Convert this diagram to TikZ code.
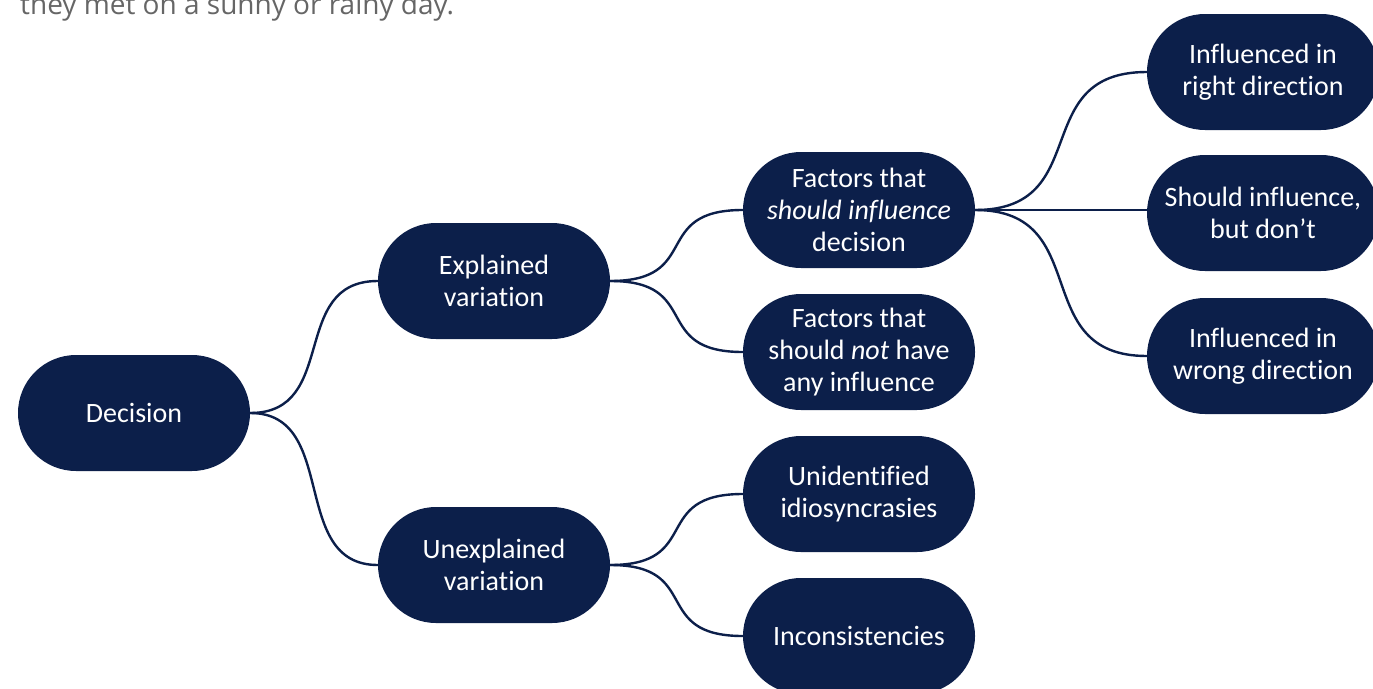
\documentclass[tikz,border=0pt]{standalone}
\usepackage{fontspec}
\setmainfont{Carlito}[Ligatures=NoCommon]
\newfontfamily\leadfont{Open Sans}
\usetikzlibrary{calc}
\definecolor{navy}{HTML}{0C1F4A}
\definecolor{leadgray}{HTML}{666666}
\tikzset{
  pill/.style={rectangle, rounded corners=58pt, fill=navy, draw=none,
    minimum width=232pt, minimum height=116pt, inner sep=0pt,
    text=white, align=center, font=\fontsize{28}{32}\selectfont},
  branch/.style={draw=navy, line width=2.4pt},
}
% S-shaped branch with horizontal tangents at both ends
\newcommand\branchto[2]{%
  \draw[branch] (#1.east) .. controls ($(#1.east)!0.7!(#1.east -| #2.west)$)
    and ($(#2.west)!0.7!(#2.west -| #1.east)$) .. (#2.west);}
\begin{document}
\begin{tikzpicture}[x=1pt, y=-1pt]
  \useasboundingbox (0,0) rectangle (1373,688);
  \clip (0,0) rectangle (1373,688);
  % trailing line of the preceding paragraph
  \node[anchor=base west, inner sep=0pt, text=leadgray,
        font=\leadfont\fontsize{28}{34}\selectfont] (lead) at (20,14)
        {they met on a sunny or rainy day.};
  % tree nodes
  \node[pill] (dec)    at (134,413) {Decision};
  \node[pill] (expl)   at (494,281) {Explained\\variation};
  \node[pill] (unexpl) at (494,565) {Unexplained\\variation};
  \node[pill] (fs)     at (859,210) {Factors that\\\textit{should influence}\\decision};
  \node[pill] (fn)     at (859,352) {Factors that\\should \textit{not} have\\any influence};
  \node[pill] (ui)     at (859,494) {Unidentified\\idiosyncrasies};
  \node[pill] (inc)    at (859,636) {Inconsistencies};
  \node[pill] (r1)     at (1263,72)  {Influenced in\\right direction};
  \node[pill] (r2)     at (1263,213) {Should influence,\\but don’t};
  \node[pill] (r3)     at (1263,356) {Influenced in\\wrong direction};
  % branches
  \branchto{dec}{expl}
  \branchto{dec}{unexpl}
  \branchto{expl}{fs}
  \branchto{expl}{fn}
  \branchto{unexpl}{ui}
  \branchto{unexpl}{inc}
  \branchto{fs}{r1}
  \draw[branch] (fs.east) -- (fs.east -| r2.west);
  \branchto{fs}{r3}
\end{tikzpicture}
\end{document}
